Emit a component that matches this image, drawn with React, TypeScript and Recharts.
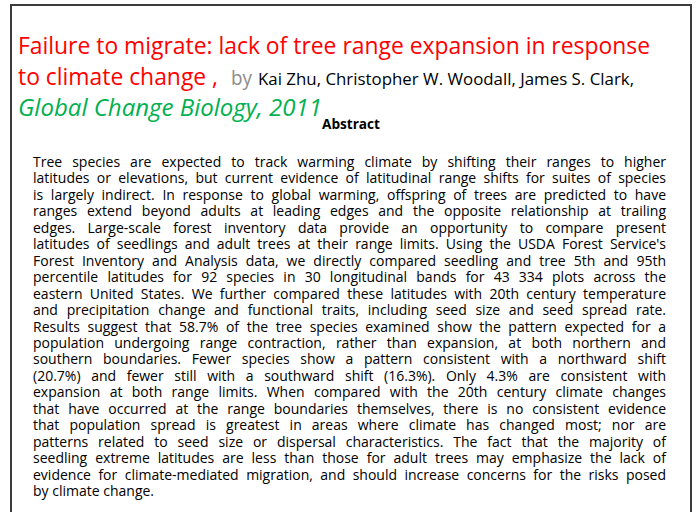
import React from 'react';
import { ComposedChart, Customized } from 'recharts';

// slide text, line by line as it is set in the reference
const titleLines = ['Failure to migrate: lack of tree range expansion in response', 'to climate change ,'];
const byWord = 'by';
const authors = 'Kai Zhu, Christopher W. Woodall, James S. Clark,';
const journal = 'Global Change Biology, 2011';
const heading = 'Abstract';

const abstractLines = [
  'Tree species are expected to track warming climate by shifting their ranges to higher',
  'latitudes or elevations, but current evidence of latitudinal range shifts for suites of species',
  'is largely indirect. In response to global warming, offspring of trees are predicted to have',
  'ranges extend beyond adults at leading edges and the opposite relationship at trailing',
  'edges. Large-scale forest inventory data provide an opportunity to compare present',
  "latitudes of seedlings and adult trees at their range limits. Using the USDA Forest Service's",
  'Forest Inventory and Analysis data, we directly compared seedling and tree 5th and 95th',
  'percentile latitudes for 92 species in 30 longitudinal bands for 43 334 plots across the',
  'eastern United States. We further compared these latitudes with 20th century temperature',
  'and precipitation change and functional traits, including seed size and seed spread rate.',
  'Results suggest that 58.7% of the tree species examined show the pattern expected for a',
  'population undergoing range contraction, rather than expansion, at both northern and',
  'southern boundaries. Fewer species show a pattern consistent with a northward shift',
  '(20.7%) and fewer still with a southward shift (16.3%). Only 4.3% are consistent with',
  'expansion at both range limits. When compared with the 20th century climate changes',
  'that have occurred at the range boundaries themselves, there is no consistent evidence',
  'that population spread is greatest in areas where climate has changed most; nor are',
  'patterns related to seed size or dispersal characteristics. The fact that the majority of',
  'seedling extreme latitudes are less than those for adult trees may emphasize the lack of',
  'evidence for climate-mediated migration, and should increase concerns for the risks posed',
  'by climate change.',
];

if (typeof document !== 'undefined') document.body.style.margin = '0';

const W = 697;
const H = 512;
const FONT = "'Open Sans', 'Noto Sans', sans-serif";
const BODY_SIZE = 14;
const BODY_LEFT = 33;
const BODY_RIGHT = 666;
const BODY_TOP = 167;
const LINE_H = 16.45;

let ctx: CanvasRenderingContext2D | null = null;
const measure = (s: string, font: string) => {
  if (!ctx) ctx = document.createElement('canvas').getContext('2d');
  if (!ctx) return s.length * 7;
  ctx.font = font;
  return ctx.measureText(s).width;
};

const Slide = () => {
  const width = BODY_RIGHT - BODY_LEFT;
  const font = `${BODY_SIZE}px ${FONT}`;
  const widths = abstractLines.map((l) => measure(l, font));
  // squeeze glyphs so the tightest justified line fits with its normal spaces
  const sx = Math.min(1, ...widths.slice(0, -1).map((w) => width / w));
  const target = width / sx;
  return (
    <g>
      <path d={`M11 ${H} V5 H691 V${H}`} fill="none" stroke="#3c3c3c" strokeWidth={2} />
      <text x={18} y={54} fontFamily={FONT} fontSize={24} fill="#ff0000" textLength={632} lengthAdjust="spacingAndGlyphs">
        {titleLines[0]}
      </text>
      <text x={18} y={85} fontFamily={FONT} fontSize={24} fill="#ff0000" textLength={200} lengthAdjust="spacingAndGlyphs">
        {titleLines[1]}
      </text>
      <text x={231} y={85} fontFamily={FONT} fontSize={20} fill="#8c8c8c" textLength={21} lengthAdjust="spacingAndGlyphs">
        {byWord}
      </text>
      <text x={258} y={85} fontFamily={FONT} fontSize={17} fill="#000" textLength={376} lengthAdjust="spacingAndGlyphs">
        {authors}
      </text>
      <text x={18} y={116} fontFamily={FONT} fontSize={24} fontStyle="italic" fill="#00b050" textLength={304} lengthAdjust="spacingAndGlyphs">
        {journal}
      </text>
      <text x={322} y={129} fontFamily={FONT} fontSize={14} fontWeight="bold" fill="#000" textLength={58} lengthAdjust="spacingAndGlyphs">
        {heading}
      </text>
      {abstractLines.map((line, i) => {
        const last = i === abstractLines.length - 1;
        const gaps = line.split(' ').length - 1;
        const ws = last || gaps === 0 ? 0 : (target - widths[i]) / gaps;
        return (
          <text
            key={i}
            transform={`translate(${BODY_LEFT},${BODY_TOP + i * LINE_H}) scale(${sx},1)`}
            fontFamily={FONT}
            fontSize={BODY_SIZE}
            fill="#000"
            style={{ wordSpacing: `${ws}px`, whiteSpace: 'pre' }}
          >
            {line}
          </text>
        );
      })}
    </g>
  );
};

export default function App() {
  return (
    <div style={{ width: W, height: H, background: '#fff', fontFamily: FONT }}>
      <ComposedChart width={W} height={H} data={[]} margin={{ top: 0, right: 0, bottom: 0, left: 0 }}>
        <Customized component={Slide} />
      </ComposedChart>
    </div>
  );
}
